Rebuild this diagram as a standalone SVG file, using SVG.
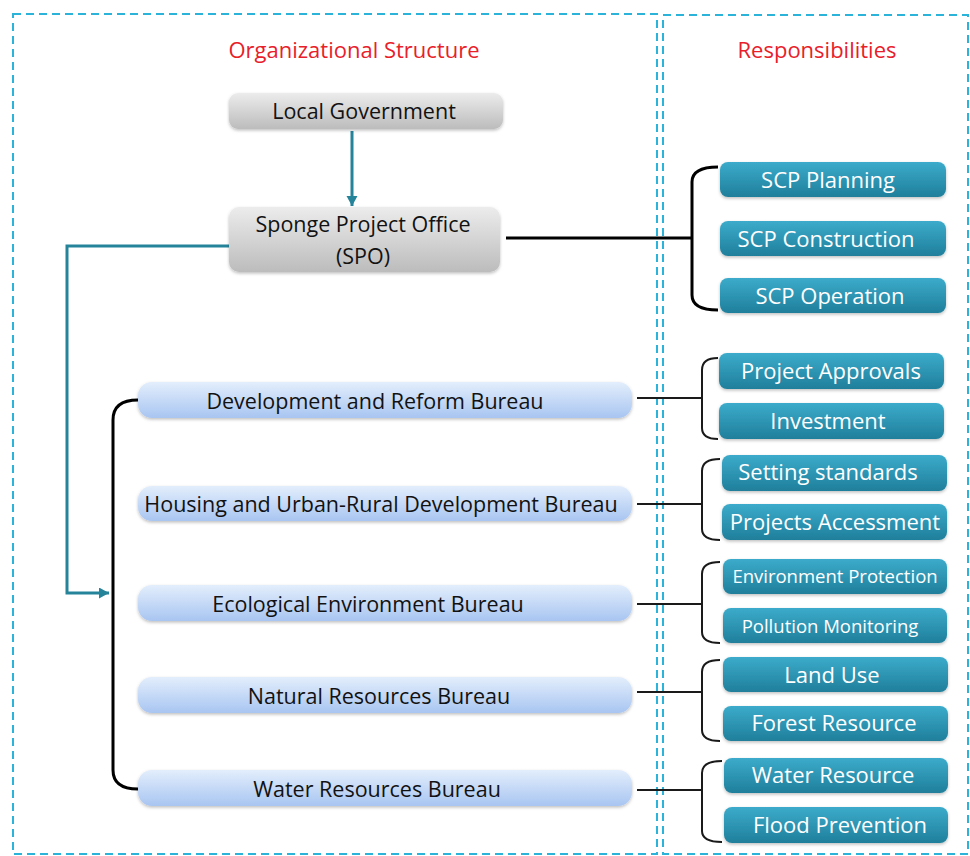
<svg xmlns="http://www.w3.org/2000/svg" width="970" height="856" viewBox="0 0 970 856">
<style>
text{font-family:"Open Sans","Noto Sans","DejaVu Sans",sans-serif;text-anchor:middle;dominant-baseline:central}
.title{fill:#e8202a;font-size:22px}
.dark{fill:#121212;font-size:21.5px}
.white{fill:#ffffff;font-size:22px}
.small{fill:#ffffff;font-size:18.5px}
.frame{fill:none;stroke:#2bb3da;stroke-width:2;stroke-dasharray:8 5}
.teal{fill:url(#gTeal);filter:url(#sh)}
.blue{fill:url(#gBlue);filter:url(#sh)}
.gray{fill:url(#gGray);filter:url(#sh)}
.blk{fill:none;stroke:#000;stroke-width:3}
.thin{fill:none;stroke:#1a1a1a;stroke-width:2}
.tl{fill:none;stroke:#25839a;stroke-width:3}
</style>
<defs>
<linearGradient id="gTeal" x1="0" y1="0" x2="0" y2="1"><stop offset="0" stop-color="#3cabcb"/><stop offset="1" stop-color="#1f7f9b"/></linearGradient>
<linearGradient id="gBlue" x1="0" y1="0" x2="0" y2="1"><stop offset="0" stop-color="#e3eefc"/><stop offset="1" stop-color="#a8c5f1"/></linearGradient>
<linearGradient id="gGray" x1="0" y1="0" x2="0" y2="1"><stop offset="0" stop-color="#ececec"/><stop offset="1" stop-color="#bcbcbc"/></linearGradient>
<filter id="sh" x="-5%" y="-20%" width="110%" height="150%"><feDropShadow dx="0" dy="1.5" stdDeviation="1.5" flood-color="#000" flood-opacity="0.25"/></filter>
<marker id="ah" markerWidth="12" markerHeight="12" refX="10" refY="5.5" orient="auto" markerUnits="userSpaceOnUse"><path d="M0,0 L10,5.5 L0,11 Z" fill="#25839a"/></marker>
</defs>
<rect width="970" height="856" fill="#fff"/>
<g id="frames">
<rect class="frame" x="13" y="14" width="644" height="840"/>
<rect class="frame" x="663" y="15" width="305" height="839"/>
</g>
<text class="title" x="354" y="49">Organizational Structure</text>
<text class="title" x="817" y="49">Responsibilities</text>
<g id="connectors">
<path class="tl" d="M352,131 V206" marker-end="url(#ah)"/>
<path class="tl" d="M229,246 H67 V593 H109" marker-end="url(#ah)"/>
<path class="blk" d="M506,238 H692"/>
<path class="blk" d="M718,167 Q692,167 692,182 V295 Q692,310 718,310"/>
<path class="blk" d="M138,400 Q113,400 113,420 V770 Q113,789 138,789"/>
<path class="thin" d="M637,398 H702 M718,358 Q702,358 702,370 V428 Q702,439 718,439"/>
<path class="thin" d="M637,504 H702 M720,459 Q702,459 702,471 V529 Q702,540 720,540"/>
<path class="thin" d="M637,604 H702 M720,562 Q702,562 702,574 V632 Q702,643 720,643"/>
<path class="thin" d="M637,692 H702 M720,660 Q702,660 702,672 V730 Q702,741 720,741"/>
<path class="thin" d="M637,790 H702 M722,761 Q702,761 702,773 V831 Q702,842 722,842"/>
</g>
<g id="local-government"><rect class="gray" x="229" y="93" width="274" height="36" rx="9"/><text class="dark" x="364" y="110">Local Government</text></g>
<g id="spo"><rect class="gray" x="229" y="207" width="271" height="65" rx="10"/><text class="dark" x="363" y="223">Sponge Project Office</text><text class="dark" x="363" y="255">(SPO)</text></g>
<g id="scp-planning"><rect class="teal" x="720" y="162" width="226" height="35" rx="8"/><text class="white" x="828" y="179">SCP Planning</text></g>
<g id="scp-construction"><rect class="teal" x="720" y="221" width="226" height="35" rx="8"/><text class="white" x="826" y="238">SCP Construction</text></g>
<g id="scp-operation"><rect class="teal" x="720" y="278" width="226" height="35" rx="8"/><text class="white" x="830" y="295">SCP Operation</text></g>
<g id="dev-reform"><rect class="blue" x="138" y="382" width="494" height="36" rx="14"/><text class="dark" x="375" y="400">Development and Reform Bureau</text></g>
<g id="housing"><rect class="blue" x="138" y="486" width="494" height="35" rx="14"/><text class="dark" x="381" y="503">Housing and Urban-Rural Development Bureau</text></g>
<g id="ecological"><rect class="blue" x="138" y="585" width="494" height="36" rx="14"/><text class="dark" x="368" y="603">Ecological Environment Bureau</text></g>
<g id="natural"><rect class="blue" x="138" y="677" width="494" height="36" rx="14"/><text class="dark" x="379" y="695">Natural Resources Bureau</text></g>
<g id="water"><rect class="blue" x="138" y="770" width="494" height="36" rx="14"/><text class="dark" x="377" y="788">Water Resources Bureau</text></g>
<g id="project-approvals"><rect class="teal" x="719" y="353" width="225" height="36" rx="8"/><text class="white" x="831" y="370">Project Approvals</text></g>
<g id="investment"><rect class="teal" x="719" y="403" width="225" height="36" rx="8"/><text class="white" x="828" y="420">Investment</text></g>
<g id="setting-standards"><rect class="teal" x="722" y="455" width="225" height="36" rx="8"/><text class="white" x="828" y="471">Setting standards</text></g>
<g id="projects-accessment"><rect class="teal" x="722" y="504" width="225" height="36" rx="8"/><text class="white" x="835" y="521">Projects Accessment</text></g>
<g id="environment-protection"><rect class="teal" x="723" y="559" width="224" height="35" rx="8"/><text class="small" x="835" y="575">Environment Protection</text></g>
<g id="pollution-monitoring"><rect class="teal" x="723" y="608" width="224" height="35" rx="8"/><text class="small" x="830" y="625">Pollution Monitoring</text></g>
<g id="land-use"><rect class="teal" x="723" y="657" width="225" height="35" rx="8"/><text class="white" x="832" y="674">Land Use</text></g>
<g id="forest-resource"><rect class="teal" x="723" y="706" width="225" height="35" rx="8"/><text class="white" x="834" y="722">Forest Resource</text></g>
<g id="water-resource"><rect class="teal" x="724" y="758" width="224" height="35" rx="8"/><text class="white" x="833" y="774">Water Resource</text></g>
<g id="flood-prevention"><rect class="teal" x="724" y="807" width="224" height="36" rx="8"/><text class="white" x="840" y="824">Flood Prevention</text></g>
</svg>
